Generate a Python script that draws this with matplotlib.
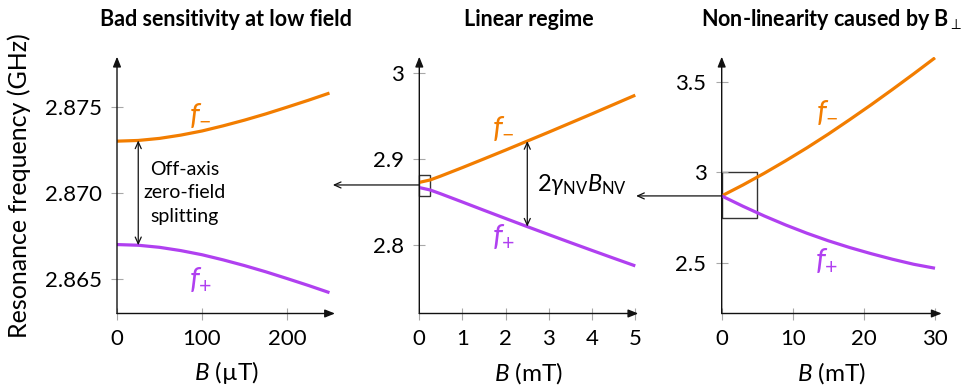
import matplotlib
matplotlib.use("Agg")
import matplotlib.pyplot as plt
from matplotlib.patches import Rectangle, ConnectionPatch
from matplotlib.transforms import blended_transform_factory

plt.rcParams['font.family'] = ['Lato', 'DejaVu Sans']
plt.rcParams['mathtext.fontset'] = 'custom'
plt.rcParams['mathtext.rm'] = 'Lato'
plt.rcParams['mathtext.it'] = 'Lato:italic'
plt.rcParams['mathtext.bf'] = 'Lato:bold'

# data
# low field, B in uT
b_low = [0, 25, 50, 75, 100, 125, 150, 175, 200, 225, 250]
fm_low = [2.8730, 2.87304, 2.87316, 2.87335, 2.87359, 2.87389, 2.87422,
          2.87458, 2.87497, 2.87537, 2.87579]
fp_low = [2.8670, 2.86696, 2.86684, 2.86665, 2.86641, 2.86611, 2.86578,
          2.86542, 2.86503, 2.86463, 2.86421]

# linear regime, B in mT
b_lin = [0, 0.25, 0.5, 1, 1.5, 2, 2.5, 3, 3.5, 4, 4.5, 5]
fm_lin = [2.8730, 2.8758, 2.8804, 2.8902, 2.9003, 2.9105, 2.9209, 2.9313,
          2.9419, 2.9525, 2.9633, 2.9741]
fp_lin = [2.8670, 2.8642, 2.8597, 2.8502, 2.8406, 2.8311, 2.8217, 2.8124,
          2.8032, 2.7941, 2.7851, 2.7762]

# high field, B in mT
b_hi = [0, 3, 6, 9, 12, 15, 18, 21, 24, 27, 30]
fm_hi = [2.870, 2.931, 2.996, 3.065, 3.137, 3.213, 3.293, 3.375, 3.460,
         3.547, 3.636]
fp_hi = [2.870, 2.8125, 2.7587, 2.7088, 2.6629, 2.6212, 2.5838, 2.550,
         2.519, 2.491, 2.469]

titles = ['Bad sensitivity at low field', 'Linear regime',
          r'Non-linearity caused by $\mathbf{B}_{\perp}$']
xlabels = [r'$B$ (µT)', r'$B$ (mT)', r'$B$ (mT)']

ORANGE = '#F27D00'
PURPLE = '#B040F0'
LBL = 22

fig = plt.figure(figsize=(9.67, 3.87), dpi=100)
W, H = 967.0, 387.0
bot = (H - 313.5) / H
hgt = (313.5 - 56.7) / H
ax1 = fig.add_axes([117 / W, bot, 218 / W, hgt])
ax2 = fig.add_axes([419.3 / W, bot, 219 / W, hgt])
ax3 = fig.add_axes([721.7 / W, bot, 220 / W, hgt])
axes = [ax1, ax2, ax3]


def style_axis(ax):
    for s in ax.spines.values():
        s.set_visible(False)
    ax.tick_params(direction='inout', length=8, width=0.8, color='#a8a8a8',
                   labelsize=16)
    ax.tick_params(axis='y', pad=7)
    ax.tick_params(axis='x', pad=7.5)
    arrow = dict(arrowstyle='-|>, head_length=0.5, head_width=0.2',
                 lw=1.0, color='#111111', shrinkA=0, shrinkB=0,
                 mutation_scale=12)
    ax.annotate('', xy=(1, 0), xytext=(0, 0), xycoords='axes fraction',
                arrowprops=arrow, annotation_clip=False)
    ax.annotate('', xy=(0, 1), xytext=(0, 0), xycoords='axes fraction',
                arrowprops=arrow, annotation_clip=False)


dbl = dict(arrowstyle='<->, head_length=0.4, head_width=0.18', lw=0.9,
           color='#111111', shrinkA=0, shrinkB=0, mutation_scale=12)

# panel 1
ax1.plot(b_low, fm_low, color=ORANGE, lw=2.3, solid_capstyle='butt')
ax1.plot(b_low, fp_low, color=PURPLE, lw=2.3, solid_capstyle='butt')
ax1.set_xlim(0, 256.5)
ax1.set_ylim(2.863, 2.8779)
ax1.set_xticks([0, 100, 200])
ax1.set_yticks([2.865, 2.870, 2.875])
ax1.set_yticklabels(['2.865', '2.870', '2.875'])
ax1.annotate('', xy=(b_low[1], fp_low[1]), xytext=(b_low[1], fm_low[1]),
             arrowprops=dbl)
ax1.text(80, 2.8700, 'Off-axis\nzero-field\nsplitting', ha='center',
         va='center', fontsize=14, linespacing=1.45)
ax1.text(98, 2.8745, r'$f_{-}$', color=ORANGE, fontsize=LBL, ha='center',
         va='center')
ax1.text(98, 2.8650, r'$f_{+}$', color=PURPLE, fontsize=LBL, ha='center',
         va='center')

# panel 2
ax2.plot(b_lin, fm_lin, color=ORANGE, lw=2.3, solid_capstyle='butt')
ax2.plot(b_lin, fp_lin, color=PURPLE, lw=2.3, solid_capstyle='butt')
ax2.set_xlim(0, 5.07)
ax2.set_ylim(2.721, 3.0187)
ax2.set_xticks([0, 1, 2, 3, 4, 5])
ax2.set_yticks([2.8, 2.9, 3.0])
ax2.set_yticklabels(['2.8', '2.9', '3'])
ax2.annotate('', xy=(b_lin[6], fp_lin[6]), xytext=(b_lin[6], fm_lin[6]),
             arrowprops=dbl)
ax2.text(2.72, 2.8700, r'$2\gamma_{\mathrm{NV}}B_{\mathrm{NV}}$', ha='left',
         va='center', fontsize=17)
ax2.text(1.95, 2.9363, r'$f_{-}$', color=ORANGE, fontsize=LBL, ha='center',
         va='center')
ax2.text(1.95, 2.8111, r'$f_{+}$', color=PURPLE, fontsize=LBL, ha='center',
         va='center')
ax2.add_patch(Rectangle((0, 2.8575), 0.25, 0.0245, fill=False,
                        edgecolor='#333333', lw=1.0, clip_on=False))

# panel 3
ax3.plot(b_hi, fm_hi, color=ORANGE, lw=2.3, solid_capstyle='butt')
ax3.plot(b_hi, fp_hi, color=PURPLE, lw=2.3, solid_capstyle='butt')
ax3.set_xlim(0, 30.94)
ax3.set_ylim(2.218, 3.642)
ax3.set_xticks([0, 10, 20, 30])
ax3.set_yticks([2.5, 3.0, 3.5])
ax3.set_yticklabels(['2.5', '3', '3.5'])
ax3.text(14.8, 3.3356, r'$f_{-}$', color=ORANGE, fontsize=LBL, ha='center',
         va='center')
ax3.text(14.8, 2.515, r'$f_{+}$', color=PURPLE, fontsize=LBL, ha='center',
         va='center')
ax3.add_patch(Rectangle((0, 2.75), 5, 0.25, fill=False,
                        edgecolor='#333333', lw=1.0, clip_on=False))

for ax, t, xl in zip(axes, titles, xlabels):
    style_axis(ax)
    pos = ax.get_position()
    cx = pos.x0 + pos.width / 2
    fig.text(cx, 1 - 20 / H, t, ha='center', va='center', fontsize=15.5,
             fontweight='bold')
    fig.text(cx, 1 - 373 / H, xl, ha='center', va='center', fontsize=17.5)

fig.text(19 / W, 1 - 186 / H, 'Resonance frequency (GHz)', rotation=90,
         ha='center', va='center', fontsize=18)

# zoom connectors
arr = dict(arrowstyle='->, head_length=0.4, head_width=0.18', lw=0.9,
           color='#111111', shrinkA=0, shrinkB=0, mutation_scale=12)
con1 = ConnectionPatch(xyA=(0, 2.870), coordsA=ax2.transData,
                       xyB=(0.99, 2.870),
                       coordsB=blended_transform_factory(ax1.transAxes,
                                                         ax2.transData),
                       **arr)
fig.add_artist(con1)
con2 = ConnectionPatch(xyA=(0, 2.870), coordsA=ax3.transData,
                       xyB=(0.99, 2.870),
                       coordsB=blended_transform_factory(ax2.transAxes,
                                                         ax3.transData),
                       **arr)
fig.add_artist(con2)

fig.savefig('out.png', dpi=100)
